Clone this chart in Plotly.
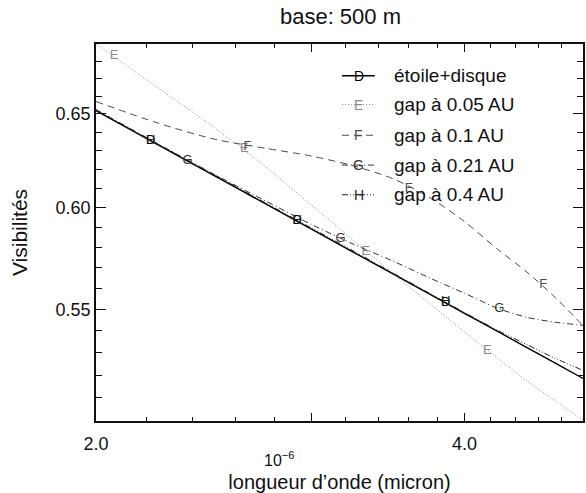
import plotly.graph_objects as go

# Wavelength grid (micron) and visibility curves for each model
wavelength = [2.0, 2.25, 2.5, 2.75, 3.0, 3.25, 3.5, 3.75, 4.0, 4.25, 4.5, 4.75, 5.0]
vis_disk = [0.6518, 0.6329, 0.6165, 0.6020, 0.5891, 0.5774, 0.5668, 0.5571, 0.5482, 0.5400, 0.5323, 0.5252, 0.5185]
vis_gap005 = [0.6900, 0.6644, 0.6423, 0.6214, 0.6012, 0.5832, 0.5670, 0.5526, 0.5396, 0.5279, 0.5174, 0.5085, 0.5004]
vis_gap01 = [0.6569, 0.6448, 0.6361, 0.6312, 0.6270, 0.6217, 0.6149, 0.6050, 0.5929, 0.5794, 0.5678, 0.5554, 0.5424]
vis_gap021 = [0.6525, 0.6334, 0.6172, 0.6035, 0.5914, 0.5814, 0.5731, 0.5649, 0.5577, 0.5507, 0.5463, 0.5440, 0.5426]
vis_gap04 = [0.6519, 0.6332, 0.6170, 0.6025, 0.5896, 0.5780, 0.5673, 0.5575, 0.5486, 0.5405, 0.5337, 0.5274, 0.5221]

# Positions of the letter symbols along each curve
sym_disk_x = [2.217, 2.920, 3.861]
sym_disk_y = [0.6352, 0.5931, 0.5531]
sym_gap005_x = [2.069, 2.644, 3.323, 4.177]
sym_gap005_y = [0.6830, 0.6307, 0.5779, 0.5310]
sym_gap01_x = [2.659, 3.602, 4.639]
sym_gap01_y = [0.6318, 0.6097, 0.5615]
sym_gap021_x = [2.376, 3.168, 4.272]
sym_gap021_y = [0.6243, 0.5844, 0.5502]
sym_gap04_x = [2.217, 2.920, 3.861]
sym_gap04_y = [0.6354, 0.5934, 0.5535]

series = [
    ("D", "étoile+disque", vis_disk, sym_disk_x, sym_disk_y, "#000000", "solid", 1.4),
    ("E", "gap à 0.05 AU", vis_gap005, sym_gap005_x, sym_gap005_y, "#8a8a8a", "1px,2px", 1.0),
    ("F", "gap à 0.1 AU", vis_gap01, sym_gap01_x, sym_gap01_y, "#4a4a4a", "7px,5px", 1.0),
    ("G", "gap à 0.21 AU", vis_gap021, sym_gap021_x, sym_gap021_y, "#333333", "6px,3px,1px,3px", 1.0),
    ("H", "gap à 0.4 AU", vis_gap04, sym_gap04_x, sym_gap04_y, "#222222", "6px,2px,1px,2px,1px,2px,1px,2px", 1.0),
]

x_major = [2.0, 3.0, 4.0, 5.0]
x_major_text = ["2.0", "", "4.0", ""]
x_minor = [2.2, 2.4, 2.6, 2.8, 3.2, 3.4, 3.6, 3.8, 4.2, 4.4, 4.6, 4.8]
y_major = [0.55, 0.60, 0.65]
y_major_text = ["0.55", "0.60", "0.65"]
y_minor = [0.50, 0.51, 0.52, 0.53, 0.54, 0.56, 0.57, 0.58, 0.59, 0.61, 0.62, 0.63, 0.64, 0.66, 0.67, 0.68, 0.69]

FONT = "Liberation Sans, Arial, sans-serif"

fig = go.Figure()

for letter, name, vals, sx, sy, color, dash, width in series:
    fig.add_trace(go.Scatter(
        x=wavelength, y=vals, mode="lines", name=name,
        line=dict(color=color, dash=dash, width=width, shape="spline", smoothing=0.8),
        showlegend=False, hoverinfo="skip",
    ))
    fig.add_trace(go.Scatter(
        x=sx, y=sy, mode="text", text=[letter] * len(sx),
        textposition="middle center",
        textfont=dict(family=FONT, size=13, color=color),
        showlegend=False, hoverinfo="skip",
    ))

# Legend drawn inside the plot: sample line with its letter, then the label
leg_rows = [0.9158, 0.8395, 0.7579, 0.6789, 0.6000]
for (letter, name, vals, sx, sy, color, dash, width), yp in zip(series, leg_rows):
    fig.add_shape(type="line", xref="paper", yref="paper",
                  x0=0.5051, x1=0.5726, y0=yp, y1=yp,
                  line=dict(color=color, dash=dash, width=width))
    fig.add_annotation(xref="paper", yref="paper", x=0.5399, y=yp,
                       xanchor="center", yanchor="middle",
                       text=letter, showarrow=False,
                       font=dict(family=FONT, size=14, color=color))
    fig.add_annotation(xref="paper", yref="paper", x=0.6074, y=yp,
                       xanchor="left", yanchor="middle", text=name, showarrow=False,
                       font=dict(family=FONT, size=19, color="#111111"))

# Exponent of the wavelength axis
fig.add_annotation(xref="paper", yref="paper", x=0.376, y=-0.10,
                   xanchor="center", yanchor="middle",
                   text="10<sup>−6</sup>", showarrow=False,
                   font=dict(family=FONT, size=16, color="#111111"))

axis_common = dict(
    showline=True, linecolor="#111111", linewidth=1.5, mirror="allticks",
    ticks="inside", tickcolor="#111111", tickwidth=1.2,
    showgrid=False, zeroline=False,
    tickfont=dict(family=FONT, size=18, color="#111111"),
)

fig.update_layout(
    width=586, height=493,
    margin=dict(l=96, r=1, t=44, b=69),
    paper_bgcolor="white", plot_bgcolor="white",
    title=dict(text="base: 500 m", x=0.581, xanchor="center", y=0.967, yanchor="middle",
               font=dict(family=FONT, size=22, color="#111111")),
    xaxis=dict(
        type="log", range=[0.30103, 0.69897],
        tickmode="array", tickvals=x_major, ticktext=x_major_text, ticklen=8,
        ticklabelstandoff=6,
        minor=dict(tickmode="array", tickvals=x_minor, ticklen=4, ticks="inside",
                   tickcolor="#111111", tickwidth=1.2),
        title=dict(text="longueur d’onde (micron)", standoff=24,
                   font=dict(family=FONT, size=20, color="#111111")),
        **axis_common,
    ),
    yaxis=dict(
        type="log", range=[-0.30103, -0.16115],
        tickmode="array", tickvals=y_major, ticktext=y_major_text, ticklen=10,
        minor=dict(tickmode="array", tickvals=y_minor, ticklen=6, ticks="inside",
                   tickcolor="#111111", tickwidth=1.2),
        title=dict(text="Visibilités", standoff=22,
                   font=dict(family=FONT, size=21, color="#111111")),
        **axis_common,
    ),
)

fig.write_html("out.html")
